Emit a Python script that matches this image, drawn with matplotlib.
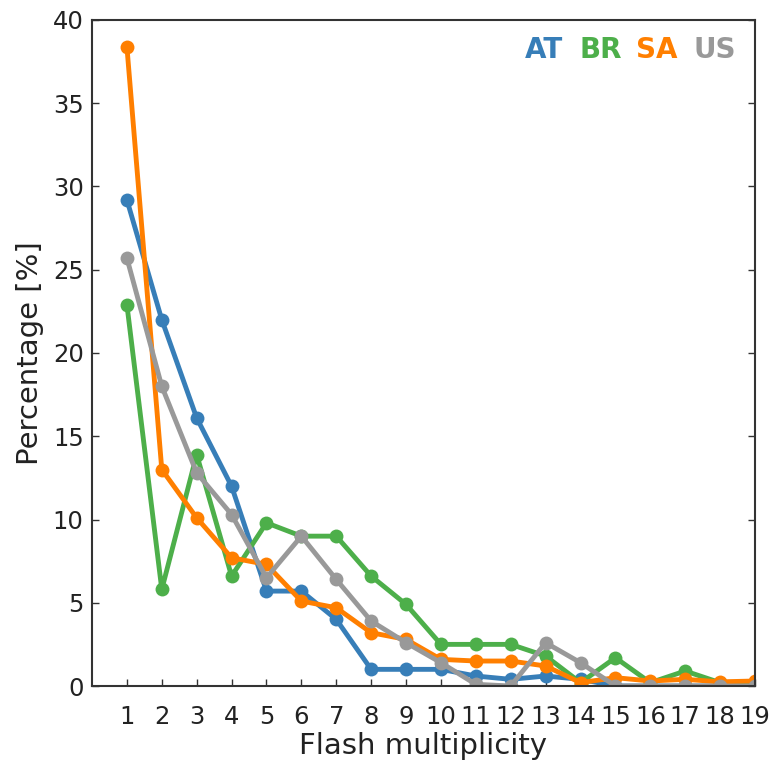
import matplotlib
matplotlib.use("Agg")
import matplotlib.pyplot as plt

# flash multiplicity 1..19
mult = list(range(1, 20))

at = [29.2, 22.0, 16.1, 12.0, 5.7, 5.7, 4.0, 1.0, 1.0, 1.0, 0.6, 0.4, 0.6, 0.4, 0.0, 0.0, 0.0, 0.0, 0.0]
br = [22.9, 5.8, 13.9, 6.6, 9.8, 9.0, 9.0, 6.6, 4.9, 2.5, 2.5, 2.5, 1.8, 0.2, 1.7, 0.2, 0.9, 0.2, 0.2]
sa = [38.4, 13.0, 10.1, 7.7, 7.3, 5.1, 4.7, 3.2, 2.8, 1.6, 1.5, 1.5, 1.2, 0.2, 0.5, 0.3, 0.4, 0.25, 0.3]
us = [25.7, 18.0, 12.8, 10.3, 6.5, 9.0, 6.4, 3.9, 2.6, 1.4, 0.1, 0.0, 2.6, 1.4, 0.0, 0.0, 0.0, 0.0, 0.0]

names = ["AT", "BR", "SA", "US"]
colors = ["#377eb8", "#4daf4a", "#ff7f00", "#999999"]

fig = plt.figure(figsize=(7.72, 7.69), dpi=100)
ax = fig.add_axes([92 / 772, 83 / 769, 663 / 772, 666 / 769])

for vals, c in zip([at, br, sa, us], colors):
    ax.plot(mult, vals, color=c, lw=3.5, marker="o", markersize=10, markeredgewidth=0)

ax.set_xlim(0, 19)
ax.set_ylim(0, 40)
ax.set_xticks(mult)
ax.set_yticks(range(0, 41, 5))
ax.tick_params(axis="both", direction="in", labelsize=17.5, length=5, width=1,
               color="#333333", labelcolor="#222222")
ax.tick_params(axis="y", right=True, pad=6)
ax.tick_params(axis="x", pad=14)
for s in ax.spines.values():
    s.set_linewidth(1.5)
    s.set_color("#333333")

ax.set_xlabel("Flash multiplicity", fontsize=21, labelpad=2, color="#222222")
ax.set_ylabel("Percentage [%]", fontsize=21, labelpad=6, color="#222222")

# coloured labels instead of legend
xpos = [0.682, 0.768, 0.852, 0.939]
for n, c, x in zip(names, colors, xpos):
    ax.text(x, 0.955, n, color=c, fontsize=20, fontweight="bold",
            ha="center", va="center", transform=ax.transAxes)

fig.savefig("out.png", dpi=100)
